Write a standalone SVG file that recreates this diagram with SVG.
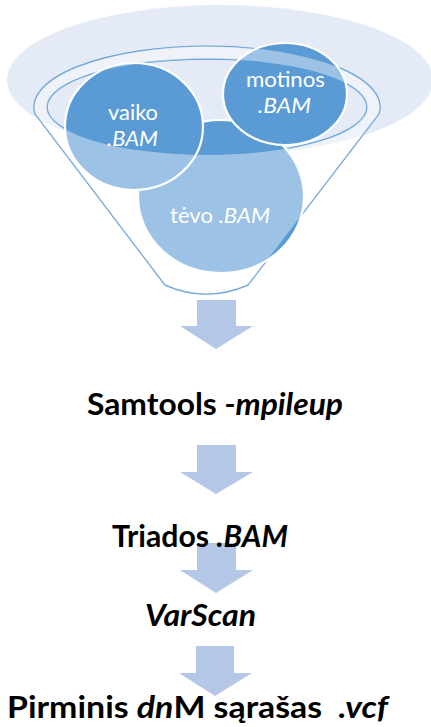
<svg xmlns="http://www.w3.org/2000/svg" width="431" height="727" viewBox="0 0 431 727">
<style>
.bub{fill:#5B9BD5;stroke:#FFFFFF;stroke-width:2.2}
.in{font-family:Lato,"Liberation Sans",sans-serif;font-size:21px;fill:#FFFFFF;text-anchor:middle}
.cap{font-family:Lato,"Liberation Sans",sans-serif;font-size:30.5px;font-weight:bold;fill:#000000;text-anchor:middle;white-space:pre}
.it{font-style:italic}
.arr{fill:#B4C7E7}
.fl{fill:none;stroke:#5B9BD5;stroke-width:1.4}
</style>
<rect width="431" height="727" fill="#FFFFFF"/>
<g id="funnel-back">
<ellipse cx="220" cy="80" rx="213" ry="75" fill="#E4EBF6"/>
<path class="fl" d="M165,285 L35.1,114 A173,61 0 1 1 378.9,114 L248,285 Q206,303 165,285 Z"/>
<ellipse class="fl" cx="207" cy="107" rx="160" ry="48"/>
</g>
<g id="node-tevo">
<ellipse class="bub" cx="221" cy="196.5" rx="83" ry="76.5"/>
</g>
<g id="node-vaiko">
<ellipse class="bub" cx="134" cy="126.5" rx="69" ry="63.5"/>
</g>
<g id="node-motinos">
<ellipse class="bub" cx="285" cy="94" rx="62" ry="51"/>
</g>
<g id="funnel-overlay">
<path fill="#FFFFFF" fill-opacity="0.4" fill-rule="evenodd" d="M165,285 L35.1,114 A173,61 0 1 1 378.9,114 L248,285 Q206,303 165,285 Z M47,107 A160,48 0 1 0 367,107 A160,48 0 1 0 47,107 Z"/>
</g>
<g id="labels-in">
<text class="in" x="133" y="120" textLength="50" lengthAdjust="spacingAndGlyphs">vaiko</text>
<text class="in it" x="132.5" y="146" textLength="51" lengthAdjust="spacingAndGlyphs">.BAM</text>
<text class="in" x="285.5" y="87" textLength="79" lengthAdjust="spacingAndGlyphs">motinos</text>
<text class="in it" x="284.5" y="113" textLength="53" lengthAdjust="spacingAndGlyphs">.BAM</text>
<text class="in" x="220" y="223" textLength="100" lengthAdjust="spacingAndGlyphs">tėvo <tspan class="it">.BAM</tspan></text>
</g>
<g id="connectors">
<path class="arr" d="M197,300 H236 V326 H253 L216,349 L180,326 H197 Z"/>
<path class="arr" d="M197,445 H236 V472 H253 L216,494 L180,472 H197 Z"/>
<path class="arr" d="M197,543 H236 V570 H253 L216,593 L180,570 H197 Z"/>
<path class="arr" d="M196,646 H234 V673 H252 L215,696 L179,673 H196 Z"/>
</g>
<g id="step-samtools">
<text class="cap" x="215" y="415" textLength="256" lengthAdjust="spacingAndGlyphs">Samtools <tspan class="it">-mpileup</tspan></text>
</g>
<g id="step-triados">
<text class="cap" x="200" y="547" textLength="176" lengthAdjust="spacingAndGlyphs">Triados <tspan class="it">.BAM</tspan></text>
</g>
<g id="step-varscan">
<text class="cap it" x="200.5" y="626" textLength="111" lengthAdjust="spacingAndGlyphs">VarScan</text>
</g>
<g id="step-result">
<text class="cap" x="197.5" y="718" textLength="381" lengthAdjust="spacingAndGlyphs">Pirminis <tspan class="it">dn</tspan>M sąrašas  <tspan class="it">.vcf</tspan></text>
</g>
</svg>
